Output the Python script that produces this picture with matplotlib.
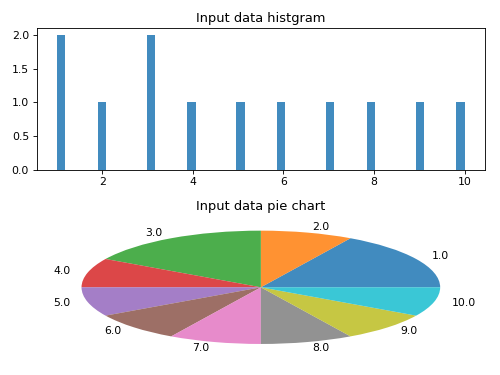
import numpy as np
import matplotlib
matplotlib.use('Agg')
import matplotlib.pyplot as plt

# input data
data = [1, 1, 2, 3, 3, 4, 5, 6, 7, 8, 9, 10]
pie_labels = ['1.0', '2.0', '3.0', '4.0', '5.0', '6.0', '7.0', '8.0', '9.0', '10.0']
pie_counts = [2, 1, 2, 1, 1, 1, 1, 1, 1, 1]

# default 6.4x4.8 figure, saved small
fig = plt.figure(figsize=(6.4, 4.8), dpi=78.125)

ax1 = fig.add_subplot(2, 1, 1)
ax1.hist(data, bins=50, alpha=0.85)
ax1.set_title('Input data histgram')

ax2 = fig.add_subplot(2, 1, 2)
wedges, texts = ax2.pie(pie_counts, labels=pie_labels)
for w in wedges:
    w.set_alpha(0.85)
ax2.set_aspect('auto')
ax2.set_title('Input data pie chart')

fig.subplots_adjust(left=0.0734, right=0.97, top=0.925, bottom=0.045, hspace=0.33)
fig.savefig('out.png', dpi=78.125)
